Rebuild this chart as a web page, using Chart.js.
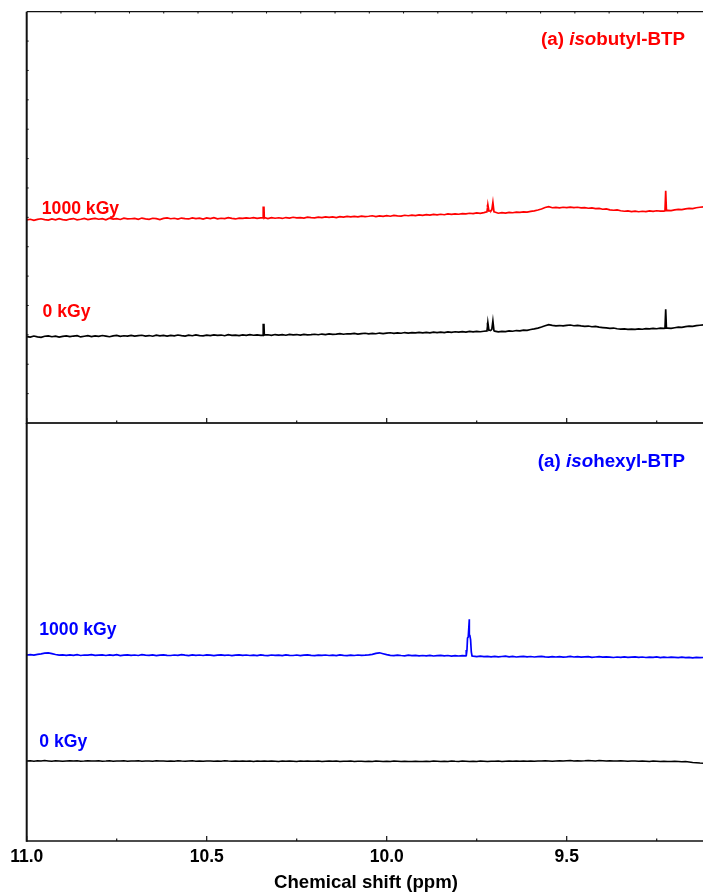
<!DOCTYPE html>
<html>
<head>
<meta charset="utf-8">
<script src="https://cdn.jsdelivr.net/npm/chart.js@4.4.1/dist/chart.umd.min.js"></script>
<style>
  html, body { margin: 0; padding: 0; background: #fff; }
  #wrap { position: relative; width: 703px; height: 896px; overflow: hidden; }
  #wrap canvas { position: absolute; left: 0; }
  #topChart { top: 0; }
  #bottomChart { top: 418px; }
</style>
</head>
<body>
<div id="wrap">
  <canvas id="topChart" width="710" height="430"></canvas>
  <canvas id="bottomChart" width="710" height="478"></canvas>
</div>
<script>
// sampling grid (ppm), every 0.01 ppm
const shifts = [
  11.00, 10.99, 10.98, 10.97, 10.96, 10.95, 10.94, 10.93, 10.92, 10.91,
  10.90, 10.89, 10.88, 10.87, 10.86, 10.85, 10.84, 10.83, 10.82, 10.81,
  10.80, 10.79, 10.78, 10.77, 10.76, 10.75, 10.74, 10.73, 10.72, 10.71,
  10.70, 10.69, 10.68, 10.67, 10.66, 10.65, 10.64, 10.63, 10.62, 10.61,
  10.60, 10.59, 10.58, 10.57, 10.56, 10.55, 10.54, 10.53, 10.52, 10.51,
  10.50, 10.49, 10.48, 10.47, 10.46, 10.45, 10.44, 10.43, 10.42, 10.41,
  10.40, 10.39, 10.38, 10.37, 10.36, 10.35, 10.34, 10.33, 10.32, 10.31,
  10.30, 10.29, 10.28, 10.27, 10.26, 10.25, 10.24, 10.23, 10.22, 10.21,
  10.20, 10.19, 10.18, 10.17, 10.16, 10.15, 10.14, 10.13, 10.12, 10.11,
  10.10, 10.09, 10.08, 10.07, 10.06, 10.05, 10.04, 10.03, 10.02, 10.01,
  10.00, 9.99, 9.98, 9.97, 9.96, 9.95, 9.94, 9.93, 9.92, 9.91,
  9.90, 9.89, 9.88, 9.87, 9.86, 9.85, 9.84, 9.83, 9.82, 9.81,
  9.80, 9.79, 9.78, 9.77, 9.76, 9.75, 9.74, 9.73, 9.72, 9.71,
  9.70, 9.69, 9.68, 9.67, 9.66, 9.65, 9.64, 9.63, 9.62, 9.61,
  9.60, 9.59, 9.58, 9.57, 9.56, 9.55, 9.54, 9.53, 9.52, 9.51,
  9.50, 9.49, 9.48, 9.47, 9.46, 9.45, 9.44, 9.43, 9.42, 9.41,
  9.40, 9.39, 9.38, 9.37, 9.36, 9.35, 9.34, 9.33, 9.32, 9.31,
  9.30, 9.29, 9.28, 9.27, 9.26, 9.25, 9.24, 9.23, 9.22, 9.21,
  9.20, 9.19, 9.18, 9.17, 9.16, 9.15, 9.14, 9.13, 9.12
];

// (a) isobutyl-BTP, 1000 kGy
const isobutyl1000 = [
  203.0, 203.6, 202.5, 203.4, 204.1, 203.2, 202.8, 203.9, 203.1, 204.2,
  203.3, 202.7, 203.8, 204.3, 203.0, 203.6, 204.4, 203.2, 203.9, 204.5,
  203.6, 204.2, 203.1, 204.6, 203.8, 204.3, 203.4, 204.7, 203.9, 204.1,
  204.5, 203.6, 204.8, 204.0, 203.5, 204.6, 204.2, 203.3, 204.4, 204.9,
  204.1, 204.6, 203.7, 204.8, 204.3, 203.9, 205.0, 204.2, 204.7, 203.8,
  204.9, 204.3, 205.1, 204.0, 204.6, 204.2, 205.2, 204.5, 203.9, 204.8,
  204.4, 205.0, 204.6, 205.3, 204.5, 204.9, 204.8, 204.3, 205.2, 204.6,
  205.1, 204.4, 205.3, 204.7, 205.6, 204.9, 205.2, 204.8, 205.7, 205.3,
  205.0, 205.8, 205.2, 206.0, 205.4, 205.9, 205.3, 206.2, 205.7, 206.4,
  205.9, 206.5, 206.0, 206.8, 206.2, 206.6, 207.1, 206.3, 207.0, 206.5,
  207.2, 206.6, 207.4, 207.0, 206.7, 207.6, 207.1, 207.8, 207.3, 208.0,
  207.5, 208.2, 207.7, 208.4, 208.0, 208.6, 208.1, 208.9, 208.4, 209.0,
  208.6, 209.3, 208.9, 209.6, 209.2, 210.0, 209.5, 210.2, 215.0, 212.0,
  210.8, 209.6, 210.2, 209.8, 210.5, 210.1, 210.8, 210.4, 211.0, 210.7,
  211.5, 212.0, 212.8, 213.9, 215.3, 216.2, 215.1, 215.4, 214.9, 215.6,
  215.3, 215.8, 215.2, 215.6, 214.9, 215.3, 214.6, 214.9, 214.2, 214.5,
  213.6, 213.9, 213.0, 212.6, 212.9, 212.1, 211.6, 212.0, 211.3, 211.7,
  211.1, 211.6, 211.2, 211.9, 211.4, 212.1, 211.8, 211.8, 212.4, 212.2,
  212.9, 213.5, 213.2, 214.0, 214.5, 214.2, 215.1, 215.6, 216.0
];
const isobutyl1000PeakShifts = [10.343, 10.341, 10.339, 9.7215, 9.719, 9.716, 9.708, 9.705, 9.702, 9.227, 9.225, 9.223];
const isobutyl1000PeakValues = [204.9, 216.3, 205.1, 211.0, 218.2, 211.8, 213.0, 220.5, 211.0, 212.0, 232.0, 212.3];

// (a) isobutyl-BTP, 0 kGy
const isobutyl0 = [
  86.4, 85.8, 86.9, 86.1, 85.6, 86.7, 87.0, 86.2, 86.8, 85.9,
  86.6, 87.1, 86.3, 86.9, 87.2, 86.0, 86.7, 87.3, 86.4, 87.0,
  86.5, 87.4, 86.8, 86.2, 87.1, 87.5, 86.6, 87.2, 86.9, 87.6,
  86.8, 87.3, 87.7, 86.9, 87.4, 86.7, 87.8, 87.1, 87.5, 86.9,
  87.6, 87.0, 87.9, 87.3, 86.8, 87.7, 87.2, 88.0, 87.4, 87.1,
  87.8, 87.3, 88.1, 87.5, 87.9, 87.2, 88.2, 87.6, 87.9, 87.4,
  88.0, 87.5, 88.3, 87.7, 88.1, 87.6, 87.9, 88.2, 87.6, 88.4,
  87.9, 88.3, 87.7, 88.5, 88.0, 88.4, 87.8, 88.6, 88.1, 88.3,
  88.7, 88.2, 88.9, 88.4, 89.0, 88.6, 88.9, 89.3, 88.7, 89.2,
  89.0, 89.5, 88.9, 89.4, 89.7, 89.1, 89.6, 89.2, 89.9, 89.4,
  89.8, 90.2, 89.6, 90.1, 89.7, 90.4, 89.9, 90.3, 90.0, 90.6,
  90.1, 90.5, 90.0, 90.7, 90.3, 90.8, 90.4, 91.0, 90.6, 91.2,
  90.8, 91.3, 90.9, 91.5, 91.0, 91.6, 91.2, 91.7, 96.5, 92.9,
  91.8, 91.0, 91.6, 91.3, 92.0, 91.7, 92.4, 92.0, 92.8, 92.6,
  93.4, 94.0, 94.8, 95.9, 97.2, 98.3, 97.6, 97.1, 97.4, 97.0,
  97.5, 97.9, 97.2, 97.6, 97.0, 96.6, 96.9, 96.2, 96.5, 95.8,
  95.4, 95.0, 94.6, 94.9, 94.2, 93.8, 94.1, 93.5, 93.9, 93.6,
  94.0, 93.7, 94.3, 94.1, 94.6, 94.2, 94.8, 94.5, 94.9, 94.6,
  95.2, 95.8, 95.5, 96.3, 96.8, 96.5, 97.3, 97.7, 98.1
];
const isobutyl0PeakShifts = [10.343, 10.341, 10.339, 9.7215, 9.719, 9.716, 9.708, 9.705, 9.702, 9.227, 9.225, 9.223];
const isobutyl0PeakValues = [87.8, 99.2, 88.1, 92.0, 100.3, 92.6, 93.5, 102.0, 92.2, 94.6, 113.7, 94.8];

// (a) isohexyl-BTP, 1000 kGy
const isohexyl1000 = [
  186.0, 186.4, 185.8, 186.6, 187.2, 187.9, 188.1, 187.4, 186.5, 185.9,
  186.2, 185.6, 186.1, 185.7, 186.3, 185.5, 186.0, 185.8, 186.4, 185.6,
  185.9, 186.2, 185.5, 186.1, 185.7, 186.3, 185.4, 185.9, 186.2, 185.6,
  186.0, 185.5, 186.3, 185.8, 185.6, 186.1, 185.4, 185.9, 186.2, 185.7,
  185.5, 186.0, 185.6, 186.3, 185.8, 185.4, 186.1, 185.7, 186.0, 185.5,
  186.2, 185.8, 185.4, 185.9, 186.1, 185.6, 186.0, 185.3, 185.8, 186.2,
  185.6, 186.0, 185.5, 185.9, 185.3, 186.1, 185.7, 185.4, 186.0, 185.6,
  185.9, 185.4, 186.1, 185.7, 185.5, 186.0, 185.3, 185.8, 186.2, 185.6,
  185.4, 185.9, 185.6, 186.0, 185.5, 185.8, 185.3, 186.1, 185.7, 185.4,
  185.9, 185.5, 186.0, 185.6, 185.8, 186.1, 186.7, 187.6, 188.2, 187.3,
  186.4, 185.7, 185.3, 185.9, 185.5, 185.2, 185.8, 185.4, 185.6, 185.1,
  185.5, 185.2, 185.7, 185.0, 185.4, 185.6, 185.1, 185.5, 184.9, 185.3,
  185.0, 185.4, 185.2, 214.0, 184.8, 184.4, 184.9, 184.3, 184.7, 184.2,
  184.6, 184.1, 184.5, 184.8, 184.2, 184.6, 184.0, 184.4, 184.7, 184.1,
  184.5, 184.0, 184.3, 184.6, 184.1, 183.8, 184.4, 184.0, 184.3, 183.9,
  184.2, 184.6, 184.0, 184.3, 183.8, 184.1, 184.4, 183.7, 184.0, 184.3,
  183.8, 184.2, 183.9, 183.5, 184.0, 183.7, 184.1, 183.6, 183.9, 184.2,
  183.7, 184.0, 183.5, 183.9, 183.6, 184.1, 183.4, 183.8, 183.5, 183.9,
  183.6, 183.3, 183.8, 183.4, 183.7, 183.2, 183.6, 183.4, 183.5
];
const isohexyl1000PeakShifts = [9.779, 9.777, 9.7755, 9.7735, 9.771, 9.769, 9.767, 9.765, 9.763];
const isohexyl1000PeakValues = [185.3, 191.0, 203.0, 204.0, 221.7, 205.5, 201.5, 189.0, 185.0];

// (a) isohexyl-BTP, 0 kGy
const isohexyl0 = [
  80.0, 80.3, 79.8, 80.2, 79.9, 80.4, 80.1, 79.8, 80.2, 80.0,
  79.7, 80.1, 80.3, 79.9, 80.2, 79.8, 80.0, 80.3, 79.9, 80.1,
  80.2, 79.8, 80.0, 80.3, 79.7, 80.1, 79.9, 80.2, 79.8, 80.0,
  79.9, 80.2, 79.8, 80.1, 80.0, 79.7, 80.2, 79.9, 80.1, 79.8,
  80.1, 79.8, 80.2, 79.9, 79.7, 80.0, 80.2, 79.8, 80.0, 79.7,
  79.9, 80.1, 79.7, 80.0, 79.8, 80.2, 79.9, 79.7, 80.0, 79.8,
  80.1, 79.8, 79.9, 79.6, 80.0, 79.8, 80.1, 79.7, 79.9, 79.8,
  79.6, 79.9, 79.7, 80.0, 79.8, 79.6, 79.9, 79.7, 80.0, 79.8,
  79.7, 79.9, 79.6, 79.8, 80.0, 79.7, 79.9, 79.6, 79.8, 79.7,
  79.9, 79.6, 79.8, 79.7, 79.5, 79.8, 79.6, 79.9, 79.7, 79.5,
  79.8, 79.6, 79.9, 79.7, 79.5, 79.8, 79.6, 79.4, 79.7, 79.6,
  79.5, 79.8, 79.6, 79.9, 79.7, 79.5, 79.8, 79.6, 79.9, 79.7,
  79.6, 79.9, 79.7, 79.5, 79.8, 79.6, 79.9, 79.7, 79.5, 79.8,
  79.7, 79.9, 79.6, 79.8, 80.0, 79.7, 79.9, 79.8, 80.1, 79.8,
  80.0, 79.8, 80.1, 79.9, 80.2, 80.0, 79.8, 80.1, 80.3, 80.0,
  80.2, 80.4, 80.1, 80.3, 80.0, 80.2, 80.5, 80.3, 80.1, 80.4,
  80.2, 80.0, 80.3, 80.1, 79.9, 80.2, 80.0, 79.8, 80.1, 79.9,
  79.7, 80.0, 79.8, 79.6, 79.9, 79.7, 79.5, 79.8, 79.6, 79.4,
  79.7, 79.5, 79.2, 79.4, 79.0, 78.6, 78.3, 77.9, 77.7
];

// axis
const xTickValues = [11.0, 10.75, 10.5, 10.25, 10.0, 9.75, 9.5, 9.25];
const xLabelValues = [11.0, 10.5, 10.0, 9.5];
const xLabels = ['11.0', '10.5', '10.0', '9.5'];

const FONT = '"Liberation Sans", Arial, Helvetica, sans-serif';
const RED = '#ff0000';
const BLUE = '#0000ff';

function buildSeries(values, peakShifts, peakValues) {
  if (values.length !== shifts.length) console.warn('length mismatch', values.length);
  const pts = shifts.map((s, i) => ({ x: s, y: values[i] }));
  peakShifts.forEach((s, i) => pts.push({ x: s, y: peakValues[i] }));
  return pts.sort((a, b) => a.x - b.x);
}

function line(ctx, x1, y1, x2, y2) {
  ctx.beginPath();
  ctx.moveTo(x1, y1);
  ctx.lineTo(x2, y2);
  ctx.stroke();
}

// frame, inward ticks and the text labels of one panel
const panelPlugin = {
  id: 'panel',
  afterDraw(chart, args, o) {
    const { ctx, chartArea: a, scales: { x, y } } = chart;
    ctx.save();
    ctx.strokeStyle = '#111';

    ctx.lineWidth = 1.2;
    line(ctx, a.left, a.top, a.right, a.top);
    ctx.lineWidth = 1.6;
    line(ctx, a.left - 0.5, a.bottom, a.right, a.bottom);
    ctx.lineWidth = 2;
    line(ctx, a.left, a.top, a.left, a.bottom + 0.8);

    // x ticks pointing inwards
    ctx.lineWidth = 1.2;
    xTickValues.forEach(v => {
      const px = x.getPixelForValue(v);
      const major = xLabelValues.includes(v);
      line(ctx, px, a.bottom, px, a.bottom - (major ? 5 : 2.5));
    });

    if (o.topTickStep) {
      ctx.lineWidth = 1;
      for (let px = a.left + o.topTickStep; px < a.right; px += o.topTickStep) {
        line(ctx, px, a.top, px, a.top + 1.8);
      }
    }
    if (o.leftTicks) {
      ctx.lineWidth = 1;
      const step = (a.bottom - a.top) / o.leftTicks;
      for (let i = 1; i < o.leftTicks; i++) {
        line(ctx, a.left, a.top + i * step, a.left + 2, a.top + i * step);
      }
    }

    (o.labels || []).forEach(lb => {
      const fonts = lb.parts.map(p => `${p.italic ? 'italic ' : ''}bold ${lb.size}px ${FONT}`);
      let total = 0;
      lb.parts.forEach((p, i) => { ctx.font = fonts[i]; total += ctx.measureText(p.t).width; });
      let px = x.getPixelForValue(lb.x);
      if (lb.align === 'right') px -= total;
      const py = y.getPixelForValue(lb.y);
      ctx.fillStyle = lb.color;
      ctx.textBaseline = 'alphabetic';
      ctx.textAlign = 'left';
      lb.parts.forEach((p, i) => {
        ctx.font = fonts[i];
        ctx.fillText(p.t, px, py);
        px += ctx.measureText(p.t).width;
      });
    });
    ctx.restore();
  }
};

const lineStyle = { pointRadius: 0, borderWidth: 1.7, tension: 0, fill: false };

new Chart(document.getElementById('topChart'), {
  type: 'line',
  data: {
    datasets: [
      { ...lineStyle, data: buildSeries(isobutyl1000, isobutyl1000PeakShifts, isobutyl1000PeakValues), borderColor: RED },
      { ...lineStyle, data: buildSeries(isobutyl0, isobutyl0PeakShifts, isobutyl0PeakValues), borderColor: '#000' }
    ]
  },
  options: {
    responsive: false,
    animation: false,
    devicePixelRatio: 1,
    layout: { padding: { left: 26.7, right: 4.7, top: 11.7, bottom: 7 } },
    plugins: {
      legend: { display: false },
      tooltip: { enabled: false },
      panel: {
        topTickStep: 34.26,
        leftTicks: 14,
        labels: [
          { parts: [{ t: '(a) ' }, { t: 'iso', italic: true }, { t: 'butyl-BTP' }], x: 9.1714, y: 378, size: 18.8, color: RED, align: 'right' },
          { parts: [{ t: '1000 kGy' }], x: 10.958, y: 208.7, size: 17.6, color: RED },
          { parts: [{ t: '0 kGy' }], x: 10.956, y: 106.3, size: 17.6, color: RED }
        ]
      }
    },
    scales: {
      x: { type: 'linear', reverse: true, min: 9.115, max: 11, display: false },
      y: { type: 'linear', min: 0, max: 411, display: false }
    }
  },
  plugins: [panelPlugin]
});

new Chart(document.getElementById('bottomChart'), {
  type: 'line',
  data: {
    datasets: [
      { ...lineStyle, data: buildSeries(isohexyl1000, isohexyl1000PeakShifts, isohexyl1000PeakValues), borderColor: BLUE },
      { ...lineStyle, borderWidth: 1.5, data: buildSeries(isohexyl0, [], []), borderColor: '#000' }
    ]
  },
  options: {
    responsive: false,
    animation: false,
    devicePixelRatio: 1,
    layout: { padding: { left: 26.7, right: 4.7, top: 5, bottom: 0 } },
    plugins: {
      legend: { display: false },
      tooltip: { enabled: false },
      panel: {
        labels: [
          { parts: [{ t: '(a) ' }, { t: 'iso', italic: true }, { t: 'hexyl-BTP' }], x: 9.1714, y: 374, size: 18.8, color: BLUE, align: 'right' },
          { parts: [{ t: '1000 kGy' }], x: 10.965, y: 206.3, size: 17.6, color: BLUE },
          { parts: [{ t: '0 kGy' }], x: 10.965, y: 94.3, size: 17.6, color: BLUE }
        ]
      }
    },
    scales: {
      x: {
        type: 'linear', reverse: true, min: 9.115, max: 11,
        grid: { display: false, drawTicks: false },
        border: { display: false },
        ticks: {
          stepSize: 0.25, autoSkip: false, maxRotation: 0, includeBounds: false, padding: 6,
          color: '#000', font: { family: FONT, size: 17.5, weight: 'bold' },
          callback: v => {
            const i = xLabelValues.findIndex(t => Math.abs(t - v) < 1e-6);
            return i >= 0 ? xLabels[i] : '';
          }
        },
        title: {
          display: true, text: 'Chemical shift (ppm)', color: '#000',
          font: { family: FONT, size: 18.6, weight: 'bold' }, padding: { top: 0, bottom: 2 }
        },
        afterFit: s => { s.height = 55; }
      },
      y: { type: 'linear', min: 0, max: 418, display: false }
    }
  },
  plugins: [panelPlugin]
});
</script>
</body>
</html>
